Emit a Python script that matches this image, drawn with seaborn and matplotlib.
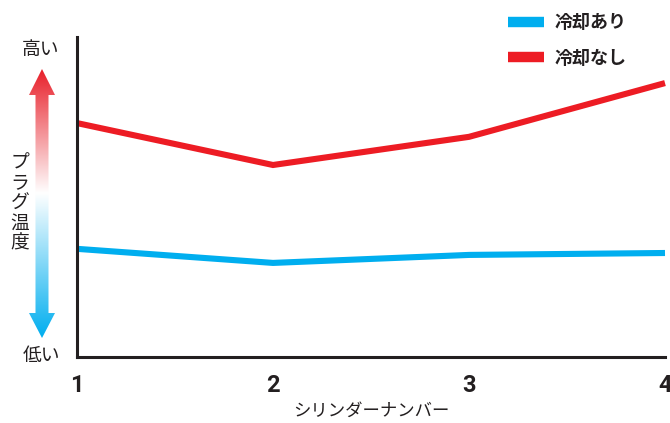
import numpy as np
import pandas as pd
import seaborn as sns
import matplotlib.pyplot as plt
from matplotlib.lines import Line2D
from matplotlib.patches import Polygon

# Plug temperature (relative index, 0 = low, 100 = high) per cylinder
cylinders = [1, 2, 3, 4]
temp_cooled = [33.8, 29.4, 31.9, 32.5]      # 冷却あり
temp_uncooled = [73.1, 60.0, 68.8, 85.6]    # 冷却なし
series_names = ["冷却あり", "冷却なし"]
series_colors = ["#00AEEF", "#ED1C24"]

df = pd.DataFrame({
    "cylinder": cylinders * 2,
    "temp": temp_cooled + temp_uncooled,
    "series": [series_names[0]] * 4 + [series_names[1]] * 4,
})

sns.set_theme(style="white")
plt.rcParams["font.family"] = ["Noto Sans CJK JP", "DejaVu Sans"]

W, H = 670, 423
fig = plt.figure(figsize=(W / 100, H / 100), dpi=100)
ax = fig.add_axes([77 / W, (H - 357) / H, (665 - 77) / W, (357 - 37) / H])

sns.lineplot(data=df, x="cylinder", y="temp", hue="series",
             palette=dict(zip(series_names, series_colors)),
             linewidth=4.4, ax=ax, legend=False)
for ln in ax.lines:
    ln.set_solid_joinstyle("miter")
    ln.set_solid_capstyle("butt")
    ln.set_clip_on(False)

ax.set_xlim(1, 4)
ax.set_ylim(0, 100)
ax.set_yticks([])
ax.set_xticks(cylinders)
ax.set_xticklabels([str(c) for c in cylinders],
                   fontfamily=["Roboto", "DejaVu Sans"],
                   fontweight="bold", fontsize=17)
ax.tick_params(axis="x", direction="in", length=8, width=1, color="#222222",
               pad=12, labelcolor="#231F20")
for side in ("top", "right"):
    ax.spines[side].set_visible(False)
for side in ("left", "bottom"):
    ax.spines[side].set_color("#231F20")
    ax.spines[side].set_linewidth(2.2)
ax.set_xlabel("シリンダーナンバー", fontsize=12.5, color="#231F20", labelpad=4)
ax.set_ylabel("")

# Legend
handles = [Line2D([0], [0], color=c, lw=7.5, solid_capstyle="butt")
           for c in series_colors]
fig.legend(handles, series_names, loc="upper left",
           bbox_to_anchor=(508 / W, 1 - 13 / H), frameon=False,
           prop=dict(family="Noto Sans CJK JP", weight="bold", size=13),
           handlelength=2.0, handletextpad=0.55, labelspacing=0.92,
           borderaxespad=0, borderpad=0, labelcolor="#231F20")

# Overlay in pixel coordinates for the temperature scale arrow
ov = fig.add_axes([0, 0, 1, 1], zorder=-1)
ov.set_xlim(0, W)
ov.set_ylim(H, 0)
ov.axis("off")

arrow = Polygon([(42, 69), (55, 95), (48.5, 95), (48.5, 313), (55, 313),
                 (42, 338), (29, 313), (35.5, 313), (35.5, 95), (29, 95)],
                closed=True, facecolor="none", edgecolor="none")
ov.add_patch(arrow)
top = np.array([232, 32, 42]) / 255
mid = np.array([1.0, 1.0, 1.0])
bot = np.array([0, 174, 239]) / 255
t = np.linspace(0, 1, 300)[:, None]
split = (193 - 69) / (338 - 69)
grad = np.where(t < split,
                top + (mid - top) * (t / split),
                mid + (bot - mid) * ((t - split) / (1 - split)))
img = ov.imshow(grad[:, None, :], extent=(29, 55, 338, 69), aspect="auto",
                interpolation="bilinear")
img.set_clip_path(arrow)

txt_kw = dict(fontsize=13.5, color="#231F20", ha="center", va="center")
ov.text(41, 50, "高い", **txt_kw)
ov.text(41, 356, "低い", **txt_kw)
ov.text(20, 203, "\n".join("プラグ温度"), linespacing=0.95, **txt_kw)

fig.savefig("out.png", dpi=100)
